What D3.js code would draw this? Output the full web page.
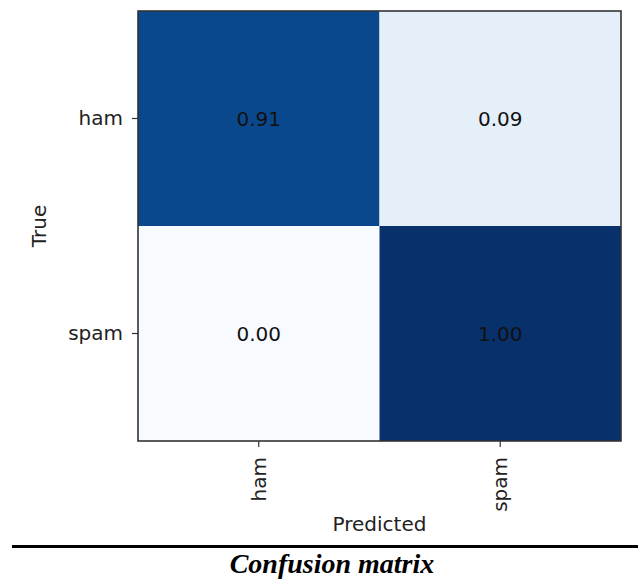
<!DOCTYPE html>
<html>
<head>
<meta charset="utf-8">
<script src="https://cdn.jsdelivr.net/npm/d3@7"></script>
<style>
  html, body { margin: 0; padding: 0; background: #fff; }
  svg { display: block; }
</style>
</head>
<body>
<svg id="chart" width="638" height="580"></svg>
<script>
// Class labels and row-normalised confusion matrix values
const trueLabels = ["ham", "spam"];
const predictedLabels = ["ham", "spam"];
const hamRow = [0.91, 0.09];
const spamRow = [0.00, 1.00];
const rows = [hamRow, spamRow];

const svg = d3.select("#chart");
const tickFont = "'DejaVu Sans', sans-serif";

const plot = { left: 138, right: 621, top: 11, bottom: 441 };

const x = d3.scaleBand().domain(predictedLabels).range([plot.left, plot.right]).padding(0);
const y = d3.scaleBand().domain(trueLabels).range([plot.top, plot.bottom]).padding(0);
const color = d3.scaleSequential(d3.interpolateBlues).domain([0, 1]);

const cells = [];
rows.forEach((row, i) => row.forEach((v, j) => cells.push({ t: trueLabels[i], p: predictedLabels[j], v })));

// Heatmap cells
svg.append("g").selectAll("rect").data(cells).join("rect")
  .attr("x", d => x(d.p))
  .attr("y", d => y(d.t))
  .attr("width", x.bandwidth())
  .attr("height", y.bandwidth())
  .attr("fill", d => color(d.v));

// Value annotations
svg.append("g").selectAll("text").data(cells).join("text")
  .attr("x", d => x(d.p) + x.bandwidth() / 2)
  .attr("y", d => y(d.t) + y.bandwidth() / 2)
  .attr("text-anchor", "middle")
  .attr("dy", "0.35em")
  .attr("font-family", tickFont)
  .attr("font-size", 20)
  .attr("fill", "#111")
  .text(d => d.v.toFixed(2));

// Frame
svg.append("rect")
  .attr("x", plot.left).attr("y", plot.top)
  .attr("width", plot.right - plot.left).attr("height", plot.bottom - plot.top)
  .attr("fill", "none").attr("stroke", "#333").attr("stroke-width", 1.6);

// Axes
const yAxis = svg.append("g")
  .attr("transform", `translate(${plot.left},0)`)
  .call(d3.axisLeft(y).tickSize(6).tickPadding(9));
const xAxis = svg.append("g")
  .attr("transform", `translate(0,${plot.bottom})`)
  .call(d3.axisBottom(x).tickSize(6).tickPadding(4));

[yAxis, xAxis].forEach(g => {
  g.select(".domain").remove();
  g.selectAll(".tick line").attr("stroke", "#333").attr("stroke-width", 1.2);
  g.selectAll(".tick text").attr("font-family", tickFont).attr("font-size", 20).attr("fill", "#222");
});

xAxis.selectAll(".tick text")
  .attr("transform", "rotate(-90)")
  .attr("text-anchor", "end")
  .attr("x", -16)
  .attr("y", 0)
  .attr("dy", "0.35em");

// Axis titles
svg.append("text")
  .attr("x", (plot.left + plot.right) / 2)
  .attr("y", 531)
  .attr("text-anchor", "middle")
  .attr("font-family", tickFont)
  .attr("font-size", 20)
  .attr("fill", "#222")
  .text("Predicted");

svg.append("text")
  .attr("transform", `translate(46,${(plot.top + plot.bottom) / 2}) rotate(-90)`)
  .attr("text-anchor", "middle")
  .attr("font-family", tickFont)
  .attr("font-size", 20)
  .attr("fill", "#222")
  .text("True");

// Caption rule and caption
svg.append("rect")
  .attr("x", 12).attr("y", 545)
  .attr("width", 626).attr("height", 3)
  .attr("fill", "#000");

svg.append("text")
  .attr("x", 332)
  .attr("y", 573)
  .attr("text-anchor", "middle")
  .attr("font-family", "'Liberation Serif', 'Times New Roman', serif")
  .attr("font-weight", "bold")
  .attr("font-style", "italic")
  .attr("font-size", 28)
  .attr("fill", "#000")
  .text("Confusion matrix");
</script>
</body>
</html>
